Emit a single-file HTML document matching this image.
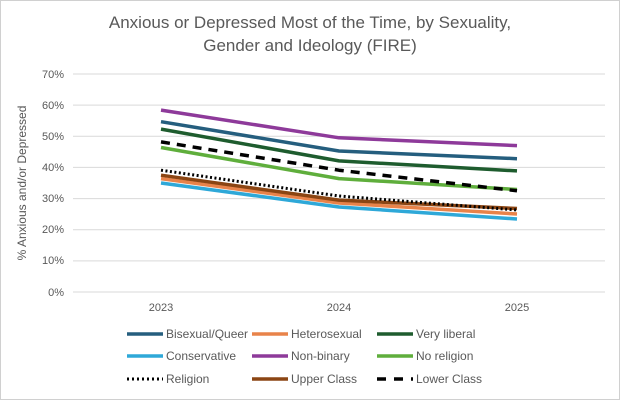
<!DOCTYPE html>
<html><head><meta charset="utf-8"><style>
body{margin:0;background:#fff}
svg{display:block;font-family:"Liberation Sans",sans-serif}
</style></head><body>
<svg width="620" height="400" viewBox="0 0 620 400">
<rect x="0.5" y="0.5" width="619" height="399" fill="#fff" stroke="#d0d0d0"/>
<text x="310" y="28" text-anchor="middle" font-size="17" fill="#595959">Anxious or Depressed Most of the Time, by Sexuality,</text>
<text x="310" y="51" text-anchor="middle" font-size="17" fill="#595959">Gender and Ideology (FIRE)</text>
<g stroke="#d9d9d9" stroke-width="1">
<line x1="73" x2="605" y1="74" y2="74"/><line x1="73" x2="605" y1="105.1" y2="105.1"/>
<line x1="73" x2="605" y1="136.3" y2="136.3"/><line x1="73" x2="605" y1="167.4" y2="167.4"/>
<line x1="73" x2="605" y1="198.6" y2="198.6"/><line x1="73" x2="605" y1="229.7" y2="229.7"/>
<line x1="73" x2="605" y1="260.9" y2="260.9"/><line x1="73" x2="605" y1="292" y2="292"/>
</g>
<g font-size="11" fill="#595959" text-anchor="end">
<text x="64" y="78">70%</text><text x="64" y="109">60%</text><text x="64" y="140">50%</text>
<text x="64" y="171">40%</text><text x="64" y="202">30%</text><text x="64" y="233">20%</text>
<text x="64" y="264">10%</text><text x="64" y="296">0%</text>
</g>
<g font-size="11" fill="#595959" text-anchor="middle">
<text x="161" y="311">2023</text><text x="339" y="311">2024</text><text x="517" y="311">2025</text>
</g>
<text transform="translate(26,183) rotate(-90)" text-anchor="middle" font-size="12" fill="#595959">% Anxious and/or Depressed</text>
<g fill="none" stroke-width="3.5" stroke-linejoin="round">
<polyline stroke="#2ea8d8" points="161,183 339,207 517,219"/>
<polyline stroke="#e8834a" points="161,178.6 339,203 517,214"/>
<polyline stroke="#8b4513" points="161,175.2 339,200.1 517,208.5"/>
<polyline stroke="#000" stroke-width="3" stroke-dasharray="2 2.5" points="161,170.2 339,196 517,210"/>
<polyline stroke="#5fae3c" points="161,147.5 339,178.6 517,189.5"/>
<polyline stroke="#000" stroke-dasharray="9 7" points="161,141.9 339,170.2 517,190.8"/>
<polyline stroke="#1e5c2e" points="161,129.1 339,160.9 517,170.9"/>
<polyline stroke="#255e7e" points="161,121.7 339,151 517,158.7"/>
<polyline stroke="#8e3a9a" points="161,110.1 339,137.8 517,145.6"/>
</g>
<g stroke-width="3.5">
<line x1="127" x2="163" y1="334" y2="334" stroke="#255e7e"/>
<line x1="252" x2="288" y1="334" y2="334" stroke="#e8834a"/>
<line x1="377" x2="413" y1="334" y2="334" stroke="#1e5c2e"/>
<line x1="127" x2="163" y1="356" y2="356" stroke="#2ea8d8"/>
<line x1="252" x2="288" y1="356" y2="356" stroke="#8e3a9a"/>
<line x1="377" x2="413" y1="356" y2="356" stroke="#5fae3c"/>
<line x1="127" x2="163" y1="379" y2="379" stroke="#000" stroke-width="3" stroke-dasharray="2 3"/>
<line x1="252" x2="288" y1="379" y2="379" stroke="#8b4513"/>
<line x1="377" x2="413" y1="379" y2="379" stroke="#000" stroke-dasharray="9 8"/>
</g>
<g font-size="12" fill="#595959">
<text x="166" y="338">Bisexual/Queer</text><text x="291" y="338">Heterosexual</text><text x="416" y="338">Very liberal</text>
<text x="166" y="360">Conservative</text><text x="291" y="360">Non-binary</text><text x="416" y="360">No religion</text>
<text x="166" y="383">Religion</text><text x="291" y="383">Upper Class</text><text x="416" y="383">Lower Class</text>
</g>
</svg>
</body></html>
